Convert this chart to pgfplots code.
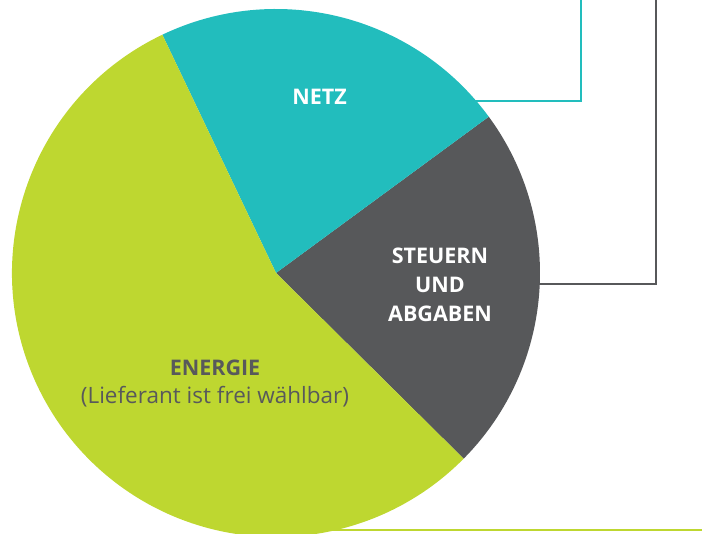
\documentclass[border=0pt]{standalone}
\usepackage{fontspec}
\setmainfont{Open Sans}
\usepackage{pgfplots}
\pgfplotsset{compat=1.18}
\definecolor{cNetz}{RGB}{34,189,189}
\definecolor{cSteuer}{RGB}{87,88,90}
\definecolor{cEnergie}{RGB}{190,215,48}
\definecolor{cText}{RGB}{88,89,91}
% shares in percent
\def\vSteuern{22.5}
\def\vNetz{22.0}
\def\vEnergie{55.5}
\pgfmathsetmacro\aS{-44.7}
\pgfmathsetmacro\aN{\aS+3.6*\vSteuern}
\pgfmathsetmacro\aE{\aN+3.6*\vNetz}
\pgfmathsetmacro\aZ{\aE+3.6*\vEnergie}
\begin{document}
\begin{tikzpicture}
\begin{axis}[
  x=1pt, y=1pt, xmin=0, xmax=702, ymin=0, ymax=534,
  hide axis, clip=true, anchor=south west, at={(0,0)},
]
% connector lines
\addplot[cNetz, line width=2pt, no marks] coordinates {(450,433) (581,433) (581,540)};
\addplot[cSteuer, line width=2pt, no marks] coordinates {(500,250) (655.5,250) (655.5,540)};
\addplot[cEnergie, line width=2.2pt, no marks] coordinates {(276,4) (710,4)};
% pie slices
\fill[cSteuer] (axis cs:276,261) -- +(\aS:264pt) arc[start angle=\aS, end angle=\aN, radius=264pt] -- cycle;
\fill[cNetz] (axis cs:276,261) -- +(\aN:264pt) arc[start angle=\aN, end angle=\aE, radius=264pt] -- cycle;
\fill[cEnergie] (axis cs:276,261) -- +(\aE:264pt) arc[start angle=\aE, end angle=\aZ, radius=264pt] -- cycle;
% labels
\node[text=white, font=\fontsize{21.5}{24}\selectfont\bfseries] at (axis cs:319.5,437) {NETZ};
\node[text=white, font=\fontsize{21.5}{29}\selectfont\bfseries, align=center] at (axis cs:440,249) {STEUERN\\UND\\ABGABEN};
\node[text=cText, font=\fontsize{22.5}{28}\selectfont, align=center] at (axis cs:215,150) {{\fontsize{21.5}{28}\selectfont\bfseries ENERGIE}\\(Lieferant ist frei wählbar)};
\end{axis}
\pgfresetboundingbox
\useasboundingbox (0,0) rectangle (702pt,534pt);
\end{tikzpicture}
\end{document}
